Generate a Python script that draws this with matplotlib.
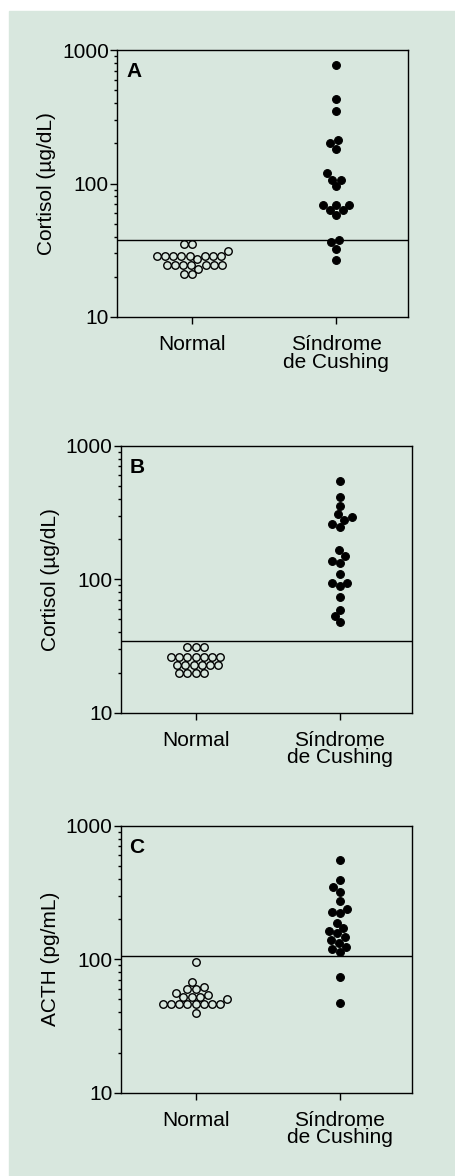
import numpy as np
import matplotlib
matplotlib.use("Agg")
import matplotlib.pyplot as plt
from matplotlib.patches import Rectangle

plt.rcParams['font.family'] = ['Liberation Sans', 'DejaVu Sans']

# data
groups = ["Normal", "Síndrome\nde Cushing"]
panel_letters = ["A", "B", "C"]
ylabels = ["Cortisol (µg/dL)", "Cortisol (µg/dL)", "ACTH (pg/mL)"]

normal_a = [35.5, 35.5, 31, 28.5, 28.5, 28.5, 28.5, 28.5, 28.5, 28.5, 28.5, 27,
            24.5, 24.5, 24.5, 24.5, 24.5, 24.5, 24.5, 23, 21, 21]
cushing_a = [767, 427, 347, 210, 201, 182, 120, 107, 107, 95, 69, 69, 68.5,
             63, 63, 58, 37.7, 36.2, 32.5, 26.5]
cutoff_a = 38

normal_b = [31, 31, 31, 26, 26, 26, 26, 26, 26, 26, 22.6, 22.6, 22.6, 22.6,
            22.6, 22.6, 19.7, 19.7, 19.7, 19.7]
cushing_b = [547, 413, 354, 306, 291, 279, 258, 247, 165, 149, 138, 133, 110,
             94, 93, 89, 73, 59, 53, 47.4]
cutoff_b = 34.4

normal_c = [96, 68, 62, 60, 60, 55.6, 54, 52, 52, 52, 50, 46, 46, 46, 46, 46,
            46, 46, 46, 39.8]
cushing_c = [550, 391, 345, 320, 271, 236, 226, 220, 187, 171, 163, 156, 147,
             140, 133, 124, 119, 113, 73, 46.8]
cutoff_c = 105

panels = [(normal_a, cushing_a, cutoff_a),
          (normal_b, cushing_b, cutoff_b),
          (normal_c, cushing_c, cutoff_c)]

BG = "#d8e7de"
W, H = 455, 1176
FS = 15


def swarm_x(ax, x0, vals, d):
    """beeswarm offsets computed in pixel space, returned in data x"""
    pts = ax.transData.transform(np.column_stack([np.full(len(vals), x0), vals]))
    order = np.argsort(pts[:, 1])
    placed = []
    offs = np.zeros(len(vals))
    for i in order:
        cy = pts[i, 1]
        cands = [0.0]
        for ox, oy in placed:
            dy = cy - oy
            if abs(dy) < d:
                dx = np.sqrt(d * d - dy * dy)
                cands += [ox + dx, ox - dx]
        cands.sort(key=lambda c: (abs(c), c))
        for c in cands:
            if all((c - ox) ** 2 + (cy - oy) ** 2 >= d * d - 1e-6 for ox, oy in placed):
                break
        placed.append((c, cy))
        offs[i] = c
    disp = np.column_stack([pts[:, 0] + offs, pts[:, 1]])
    return ax.transData.inverted().transform(disp)[:, 0]


fig = plt.figure(figsize=(W / 100, H / 100), dpi=100)
fig.patch.set_facecolor("white")
fig.patches.append(Rectangle((9 / W, 0), 1 - 9 / W, 1 - 11 / H,
                             transform=fig.transFigure, color=BG, zorder=-10))

boxes = [(117.3, 317), (120.7, 712.7), (120.7, 1092.7)]
for k, (left, bottom) in enumerate(boxes):
    ax = fig.add_axes([left / W, 1 - bottom / H, 291 / W, 267 / H])
    ax.set_facecolor("none")
    ax.set_yscale("log")
    ax.set_ylim(10, 1000)
    ax.set_xlim(0.48, 2.5)
    normal, cushing, cutoff = panels[k]

    xn = swarm_x(ax, 1, normal, 8.2)
    xc = swarm_x(ax, 2, cushing, 8.2)
    ax.plot(xn, normal, "o", ms=5.4, mfc="none", mec="black", mew=1.0, clip_on=False)
    ax.plot(xc, cushing, "o", ms=5.6, mfc="black", mec="black", mew=0.8, clip_on=False)
    ax.axhline(cutoff, color="black", lw=1.0)

    ax.set_xticks([1, 2])
    ax.set_xticklabels(groups, fontsize=FS, linespacing=0.9)
    ax.set_yticks([10, 100, 1000])
    ax.set_yticklabels(["10", "100", "1000"], fontsize=FS)
    ax.yaxis.set_minor_formatter(plt.NullFormatter())
    ax.tick_params(axis="both", which="major", direction="out", length=5, width=1, pad=1)
    ax.tick_params(axis="x", which="major", pad=8)
    ax.tick_params(axis="y", which="minor", direction="out", length=2.5, width=1)
    for s in ax.spines.values():
        s.set_linewidth(1.0)

    ax.set_ylabel(ylabels[k], fontsize=FS)
    ax.yaxis.set_label_coords(-0.21, 0.5)
    ax.text(0.03, 0.955, panel_letters[k], transform=ax.transAxes,
            fontsize=FS, fontweight="bold", ha="left", va="top")

fig.savefig("out.png", dpi=100)
